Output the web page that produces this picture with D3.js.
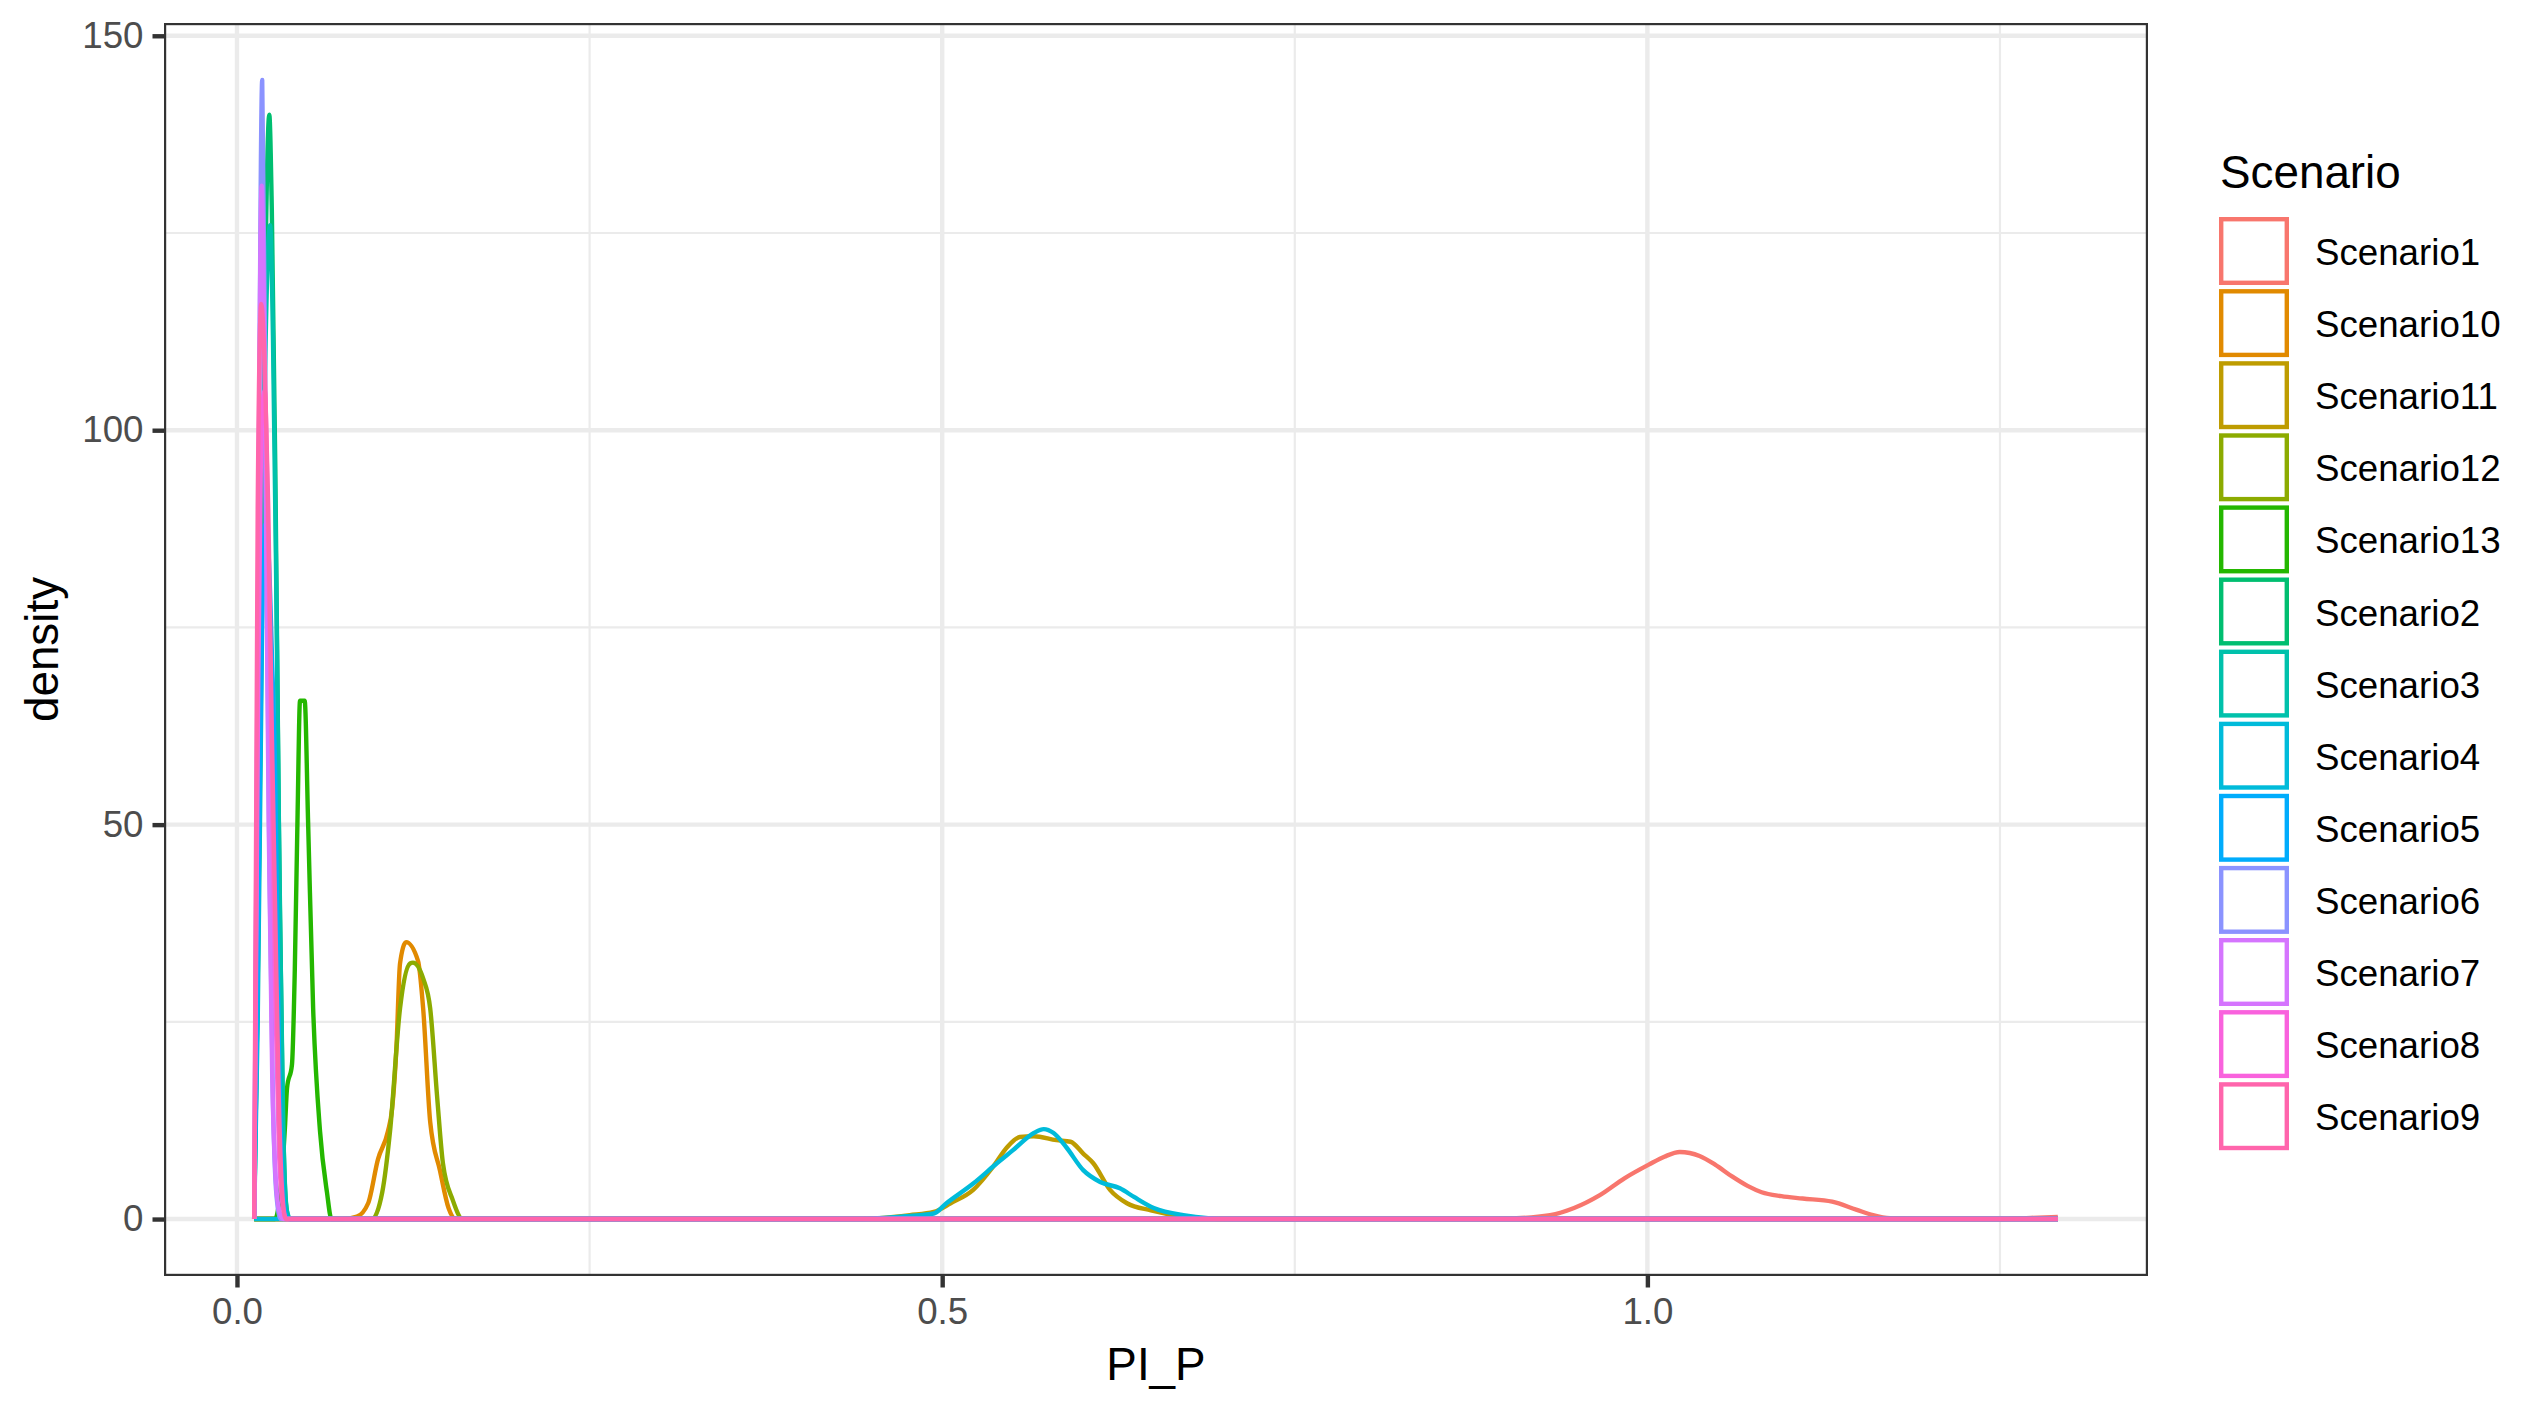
<!DOCTYPE html>
<html>
<head>
<meta charset="utf-8">
<script src="https://cdn.jsdelivr.net/npm/d3@7"></script>
<style>
	body { margin: 0; background: #ffffff; }
	text { font-family: "Liberation Sans", Arial, sans-serif; }
</style>
</head>
<body>
<div id="chart"></div>
<script>

// density curves, [PI_P, density]
var scenario1 = [[0.0122,0],[0.88,0],[0.90,0.05],[0.931,0.5],[0.948,1.4],[0.966,3.0],[0.984,5.2],[1.001,6.9],[1.012,7.9],[1.023,8.5],[1.037,8.0],[1.048,6.9],[1.060,5.4],[1.071,4.2],[1.081,3.4],[1.095,2.9],[1.110,2.6],[1.131,2.2],[1.148,1.2],[1.160,0.5],[1.172,0.1],[1.19,0],[1.25,0],[1.272,0.15],[1.291,0.25]]
var scenario10 = [[0.0122,0],[0.075,0],[0.085,0.3],[0.093,2.0],[0.100,7.6],[0.107,11.1],[0.110,14],[0.113,21.5],[0.1156,32.4],[0.1199,35.1],[0.1284,32.7],[0.132,26.7],[0.137,12.3],[0.144,6.1],[0.150,1.4],[0.155,0],[1.291,0]]
var scenario11 = [[0.0122,0],[0.44,0],[0.477,0.5],[0.494,0.9],[0.506,2.0],[0.522,3.7],[0.536,6.6],[0.546,9.1],[0.555,10.4],[0.565,10.5],[0.581,10.0],[0.591,9.8],[0.600,8.3],[0.607,7.1],[0.619,3.7],[0.631,2.0],[0.648,1.1],[0.671,0.3],[0.695,0],[1.291,0]]
var scenario12 = [[0.0122,0],[0.0957,0],[0.103,3.4],[0.1085,11.1],[0.1156,26.7],[0.1227,32.4],[0.1248,32.5],[0.132,30.5],[0.137,26.7],[0.142,15.3],[0.146,7.1],[0.153,2.4],[0.160,0],[1.291,0]]
var scenario13 = [[0.0122,0],[0.027,0],[0.031,4],[0.034,11.6],[0.0355,16.6],[0.039,19.6],[0.041,31.6],[0.043,51.6],[0.0447,65.7],[0.048,65.7],[0.0504,50.5],[0.054,26.7],[0.0589,11.1],[0.0638,3.4],[0.067,0],[1.291,0]]
var scenario2 = [[0.0122,0],[0.0147,30],[0.0172,75],[0.0197,115],[0.0229,140],[0.0247,128],[0.0272,95],[0.0297,50],[0.0322,17],[0.0347,2],[0.037,0],[1.291,0]]
var scenario3 = [[0.0122,0],[0.0147,25],[0.0172,65],[0.0197,105],[0.0235,126],[0.0255,112],[0.028,78],[0.0305,38],[0.033,10],[0.0355,1],[0.038,0],[1.291,0]]
var scenario4 = [[0.0122,0],[0.44,0],[0.477,0.4],[0.494,0.7],[0.503,2.0],[0.522,4.5],[0.539,7.1],[0.550,8.7],[0.565,10.9],[0.572,11.4],[0.579,10.9],[0.588,9.1],[0.600,6.2],[0.612,4.7],[0.626,3.9],[0.636,2.8],[0.650,1.4],[0.671,0.5],[0.706,0],[1.291,0]]
var scenario5 = [[0.0122,0],[0.0147,30],[0.0172,70],[0.0197,88],[0.0222,85],[0.0247,72],[0.0272,55],[0.0297,22],[0.0322,5],[0.0347,0.5],[0.037,0],[1.291,0]]
var scenario6 = [[0.0122,0],[0.0147,70],[0.0179,144.4],[0.0205,95],[0.023,45],[0.0255,15],[0.028,3],[0.031,0],[1.291,0]]
var scenario7 = [[0.0122,0],[0.0147,75],[0.0175,131],[0.02,100],[0.0225,50],[0.025,18],[0.0275,5],[0.03,1],[0.033,0],[1.291,0]]
var scenario8 = [[0.0122,0],[0.0147,60],[0.0172,100],[0.0197,105],[0.0222,85],[0.0247,55],[0.0272,28],[0.0297,9],[0.0322,2],[0.035,0],[1.291,0]]
var scenario9 = [[0.0122,0],[0.0147,90],[0.0172,116],[0.0197,108],[0.0222,90],[0.0247,62],[0.0272,38],[0.0297,15],[0.0322,3],[0.0347,0],[1.291,0]]

var names = ["Scenario1","Scenario10","Scenario11","Scenario12","Scenario13","Scenario2","Scenario3","Scenario4","Scenario5","Scenario6","Scenario7","Scenario8","Scenario9"]

var colours = ["#F8766D","#E18A00","#BE9C00","#8CAB00","#24B700","#00BE70","#00C1AB","#00BBDA","#00ACFC","#8B93FF","#D575FE","#F962DD","#FF65AC"]

var curves = [scenario1, scenario10, scenario11, scenario12, scenario13, scenario2, scenario3, scenario4, scenario5, scenario6, scenario7, scenario8, scenario9]

var xTicks = [0, 0.5, 1.0]
var xMinor = [0.25, 0.75, 1.25]
var yTicks = [0, 50, 100, 150]
var yMinor = [25, 75, 125]

var width = 2546
var height = 1415

var panel = { left: 164, right: 2148, top: 23, bottom: 1276 }

var lineW = 4.4

var all = curves.flat()

var xExt = d3.extent(all, d => d[0])
var yMax = d3.max(all, d => d[1])

// ggplot style 5% expansion
var xPad = (xExt[1] - xExt[0]) * 0.05
var yPad = yMax * 0.05

var x = d3.scaleLinear()
	.domain([xExt[0] - xPad, xExt[1] + xPad])
	.range([panel.left, panel.right])

var y = d3.scaleLinear()
	.domain([0 - yPad, yMax + yPad])
	.range([panel.bottom, panel.top])

var svg = d3.select("#chart").append("svg")
	.attr("width", width)
	.attr("height", height)
	.style("display", "block")

svg.append("rect")
	.attr("width", width)
	.attr("height", height)
	.attr("fill", "#ffffff")

svg.append("clipPath")
	.attr("id", "clip")
	.append("rect")
	.attr("x", panel.left)
	.attr("y", panel.top)
	.attr("width", panel.right - panel.left)
	.attr("height", panel.bottom - panel.top)

var plot = svg.append("g").attr("clip-path", "url(#clip)")

// grid

plot.selectAll(".xminor").data(xMinor).enter()
	.append("line")
	.attr("x1", d => x(d)).attr("x2", d => x(d))
	.attr("y1", panel.top).attr("y2", panel.bottom)
	.attr("stroke", "#EBEBEB").attr("stroke-width", lineW / 2)

plot.selectAll(".yminor").data(yMinor).enter()
	.append("line")
	.attr("y1", d => y(d)).attr("y2", d => y(d))
	.attr("x1", panel.left).attr("x2", panel.right)
	.attr("stroke", "#EBEBEB").attr("stroke-width", lineW / 2)

plot.selectAll(".xmajor").data(xTicks).enter()
	.append("line")
	.attr("x1", d => x(d)).attr("x2", d => x(d))
	.attr("y1", panel.top).attr("y2", panel.bottom)
	.attr("stroke", "#EBEBEB").attr("stroke-width", lineW)

plot.selectAll(".ymajor").data(yTicks).enter()
	.append("line")
	.attr("y1", d => y(d)).attr("y2", d => y(d))
	.attr("x1", panel.left).attr("x2", panel.right)
	.attr("stroke", "#EBEBEB").attr("stroke-width", lineW)

// density lines

var line = d3.line()
	.x(d => x(d[0]))
	.y(d => y(d[1]))
	.curve(d3.curveMonotoneX)

plot.selectAll(".density").data(curves).enter()
	.append("path")
	.attr("d", line)
	.attr("fill", "none")
	.attr("stroke", (d, i) => colours[i])
	.attr("stroke-width", lineW)
	.attr("stroke-linejoin", "round")

// panel border (clipped, so only the inner half shows)

plot.append("rect")
	.attr("x", panel.left)
	.attr("y", panel.top)
	.attr("width", panel.right - panel.left)
	.attr("height", panel.bottom - panel.top)
	.attr("fill", "none")
	.attr("stroke", "#333333")
	.attr("stroke-width", lineW)

// axes

var xAxis = svg.append("g")
	.attr("transform", `translate(0,${panel.bottom})`)
	.call(d3.axisBottom(x).tickValues(xTicks).tickFormat(d3.format(".1f")).tickSize(11.5).tickPadding(10))

var yAxis = svg.append("g")
	.attr("transform", `translate(${panel.left},0)`)
	.call(d3.axisLeft(y).tickValues(yTicks).tickFormat(d3.format("d")).tickSize(11.5).tickPadding(9))

svg.selectAll(".domain").remove()

svg.selectAll(".tick line")
	.attr("stroke", "#333333")
	.attr("stroke-width", lineW)

svg.selectAll(".tick text")
	.attr("fill", "#4D4D4D")
	.style("font-size", "36.7px")
	.style("font-family", "'Liberation Sans', Arial, sans-serif")

// titles

svg.append("text")
	.attr("x", (panel.left + panel.right) / 2)
	.attr("y", 1380)
	.attr("text-anchor", "middle")
	.style("font-size", "45.8px")
	.text("PI_P")

svg.append("text")
	.attr("transform", `translate(58,${(panel.top + panel.bottom) / 2}) rotate(-90)`)
	.attr("text-anchor", "middle")
	.style("font-size", "45.8px")
	.text("density")

// legend

var legend = svg.append("g")

legend.append("text")
	.attr("x", 2220)
	.attr("y", 188)
	.style("font-size", "45.8px")
	.text("Scenario")

var keys = legend.selectAll(".key").data(names).enter()
	.append("g")
	.attr("transform", (d, i) => `translate(2219,${217 + i * 72.1})`)

keys.append("rect")
	.attr("x", 2.2)
	.attr("y", 2.2)
	.attr("width", 65.6)
	.attr("height", 63.6)
	.attr("fill", "none")
	.attr("stroke", (d, i) => colours[i])
	.attr("stroke-width", lineW)

keys.append("text")
	.attr("x", 96)
	.attr("y", 48)
	.style("font-size", "36.7px")
	.text(d => d)

</script>
</body>
</html>
